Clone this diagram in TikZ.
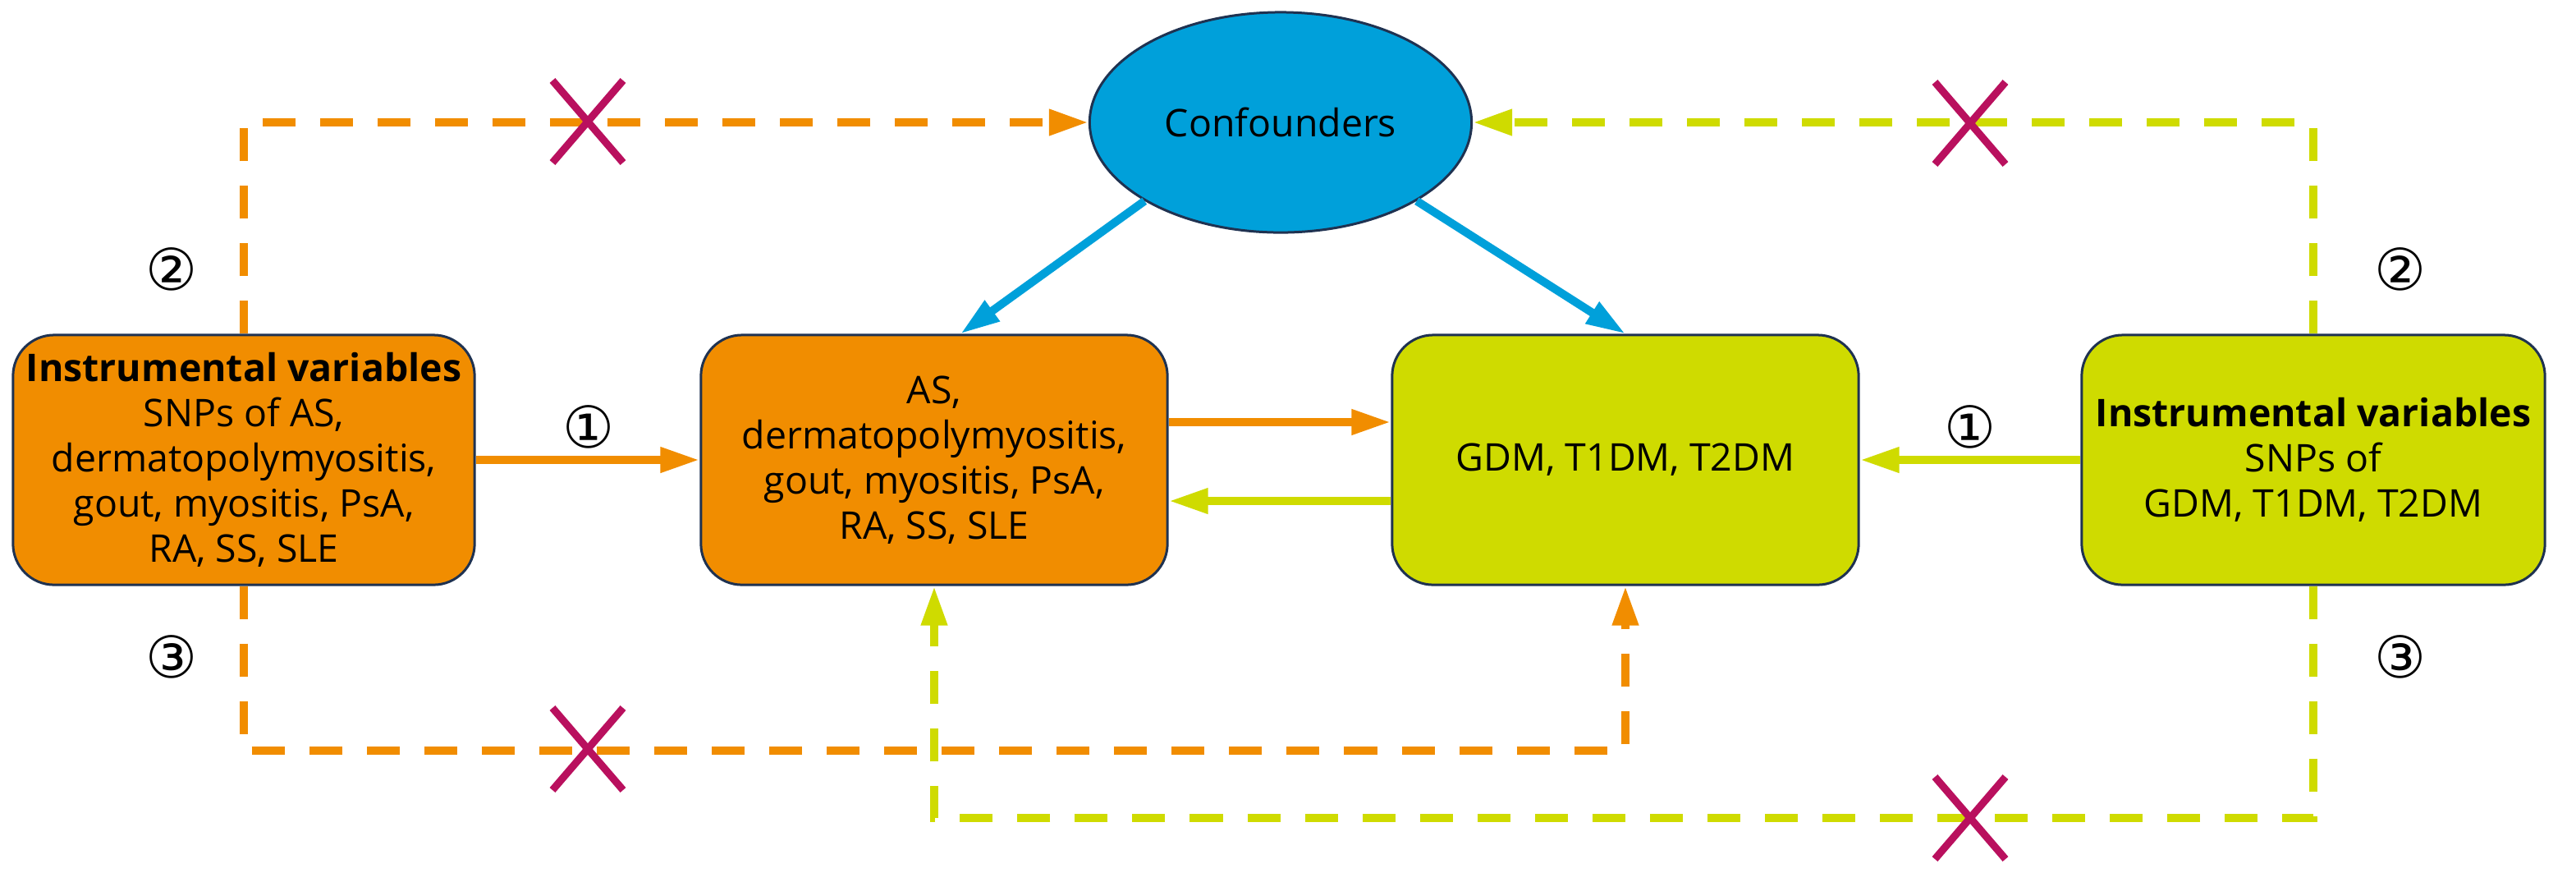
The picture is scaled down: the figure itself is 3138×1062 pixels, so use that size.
\documentclass[tikz,border=0pt]{standalone}
\usepackage{fontspec}
\setmainfont{Open Sans}
\newfontfamily\circfont{DejaVu Sans}
\usetikzlibrary{arrows.meta,shapes.geometric,calc}
\definecolor{orng}{RGB}{241,141,0}
\definecolor{lime}{RGB}{207,219,0}
\definecolor{cblue}{RGB}{0,160,218}
\definecolor{xred}{RGB}{185,16,94}
\definecolor{navy}{RGB}{31,50,81}
\begin{document}
\begin{tikzpicture}[x=0.01cm,y=-0.01cm,
  txt/.style={font=\fontsize{13.2}{15.6}\selectfont},
  box/.style={txt,draw=navy,line width=0.03cm,rounded corners=0.5cm,align=center,minimum height=3.04cm,inner sep=0pt},
  circ/.style={font=\circfont\fontsize{20}{22}\selectfont,inner sep=0pt},
  solidarr/.style={line width=0.1cm,-{Triangle[length=0.48cm,width=0.29cm]}},
  dasharr/.style={line width=0.1cm,dash pattern=on 0.4cm off 0.3cm,-{Triangle[length=0.48cm,width=0.3cm]}},
  xmark/.style={xred,line width=0.09cm}]
\useasboundingbox (0,0) rectangle (3138,1062);
% nodes
\node[ellipse,draw=navy,line width=0.03cm,fill=cblue,minimum width=4.65cm,minimum height=2.68cm,txt,inner sep=0pt] (conf) at (1560,149) {Confounders};
\node[box,fill=orng,minimum width=5.62cm] (L) at (297,560) {\textbf{Instrumental variables}\\SNPs of AS,\\dermatopolymyositis,\\gout, myositis, PsA,\\RA, SS, SLE};
\node[box,fill=orng,minimum width=5.68cm] (M) at (1138,560) {AS,\\dermatopolymyositis,\\gout, myositis, PsA,\\RA, SS, SLE};
\node[box,fill=lime,minimum width=5.68cm] (G) at (1980,560) {GDM, T1DM, T2DM};
\node[box,fill=lime,minimum width=5.64cm] (R) at (2818,560) {\textbf{Instrumental variables}\\SNPs of\\GDM, T1DM, T2DM};
% labels
\node[circ] (l1) at (717,520) {①};
\node[circ] (r1) at (2400,520) {①};
\node[circ] (l2) at (209,328) {②};
\node[circ] (r2) at (2924,328) {②};
\node[circ] (l3) at (209,800) {③};
\node[circ] (r3) at (2924,800) {③};
% helper coordinates
\coordinate (yob) at (0,914);
\coordinate (ygb) at (0,996);
% solid arrows
\draw[solidarr,orng] (L.east) -- (M.west);
\draw[solidarr,lime] (R.west) -- (G.east);
\draw[solidarr,orng] ([yshift=0.46cm]M.east) -- ([yshift=0.46cm]G.west);
\draw[solidarr,lime] ([yshift=-0.5cm]G.west) -- ([yshift=-0.5cm]M.east);
\draw[solidarr,cblue] (conf.210) -- ([xshift=0.32cm]M.north);
\draw[solidarr,cblue] (conf.330) -- (G.north);
% dashed arrows
\draw[dasharr,orng] (L.north) |- (conf.west);
\draw[dasharr,lime] (R.north) |- (conf.east);
\draw[dasharr,orng] (L.south) -- (L.south |- yob) -| (G.south);
\draw[dasharr,lime] (R.south) -- (R.south |- ygb) -| (M.south);
% crosses
\coordinate (x1) at (716,148);
\coordinate (x2) at (2400,150);
\coordinate (x3) at (716,912);
\coordinate (x4) at (2400,996);
\foreach \c in {x1,x2,x3,x4}{
  \draw[xmark] (\c) ++(-43,-50) -- ++(86,100);
  \draw[xmark] (\c) ++(43,-50) -- ++(-86,100);
}
\end{tikzpicture}
\end{document}
